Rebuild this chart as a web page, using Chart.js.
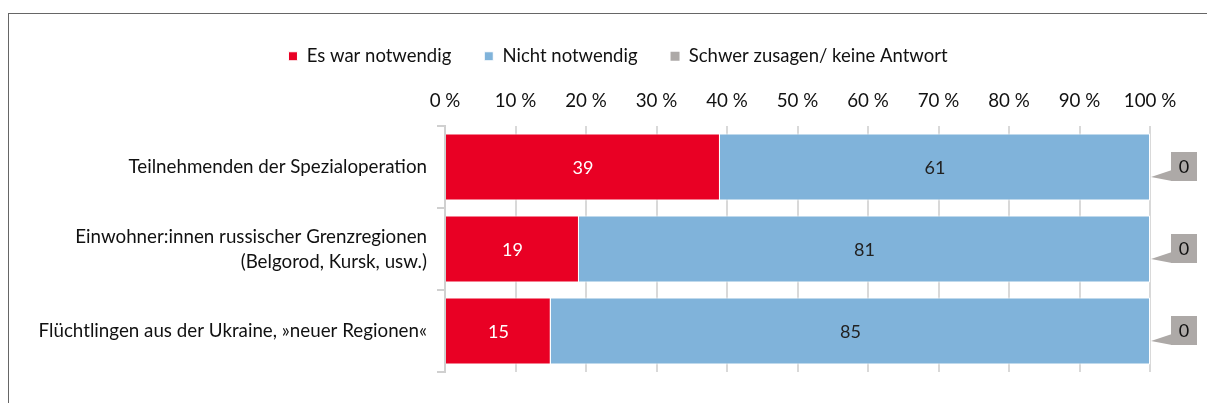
<!DOCTYPE html>
<html>
<head>
<meta charset="utf-8">
<script src="https://cdn.jsdelivr.net/npm/chart.js@4"></script>
<style>
  html, body { margin: 0; padding: 0; background: #fff; }
  #wrap { position: relative; width: 1207px; height: 403px; overflow: hidden; }
  #frame { position: absolute; left: 8px; top: 13px; width: 1300px; height: 500px;
           border-top: 1px solid #666; border-left: 1px solid #666; }
  canvas { position: absolute; left: 0; top: 0; }
</style>
</head>
<body>
<div id="wrap">
  <div id="frame"></div>
  <canvas id="chartCanvas" width="1207" height="403"></canvas>
</div>
<script>
// categories and values
const categories = [
  'Teilnehmenden der Spezialoperation',
  ['Einwohner:innen russischer Grenzregionen', '(Belgorod, Kursk, usw.)'],
  'Flüchtlingen aus der Ukraine, »neuer Regionen«'
];
const seriesNames = ['Es war notwendig', 'Nicht notwendig', 'Schwer zusagen/ keine Antwort'];
const necessary = [39, 19, 15];
const notNecessary = [61, 81, 85];
const noAnswer = [0, 0, 0];
const tickValues = [0, 10, 20, 30, 40, 50, 60, 70, 80, 90, 100];

const RED = '#E90024';
const BLUE = '#80B3DA';
const GREY = '#ADA9A7';
const FONT = 'Lato, "Open Sans", sans-serif';
const SIZE = 18.75;

// nudge the legend a bit to the right, like in the original
const legendShift = {
  id: 'legendShift',
  afterLayout(chart) {
    chart.legend.left += 43;
    chart.legend.right += 43;
  }
};

// numbers inside the bars
const barLabels = {
  id: 'barLabels',
  afterDatasetsDraw(chart) {
    const ctx = chart.ctx;
    ctx.save();
    ctx.font = '18px ' + FONT;
    ctx.textAlign = 'center';
    ctx.textBaseline = 'middle';
    [0, 1].forEach((di) => {
      const meta = chart.getDatasetMeta(di);
      meta.data.forEach((bar, i) => {
        const v = chart.data.datasets[di].data[i];
        if (!v) return;
        ctx.fillStyle = di === 0 ? '#fff' : '#222';
        ctx.fillText(v, (bar.x + bar.base) / 2, bar.y + 1);
      });
    });
    ctx.restore();
  }
};

// grey callouts for the third series
const callouts = {
  id: 'callouts',
  afterDatasetsDraw(chart) {
    const ctx = chart.ctx;
    const meta = chart.getDatasetMeta(2);
    ctx.save();
    meta.data.forEach((bar, i) => {
      const v = chart.data.datasets[2].data[i];
      const tipX = bar.x + 1, tipY = bar.y + 10;
      const bx = bar.x + 21, by = bar.y - 15, bw = 26, bh = 29;
      ctx.fillStyle = GREY;
      ctx.beginPath();
      ctx.moveTo(tipX, tipY);
      ctx.lineTo(bx + 1, by + bh - 11);
      ctx.lineTo(bx + 1, by + bh);
      ctx.closePath();
      ctx.fill();
      ctx.fillRect(bx, by, bw, bh);
      ctx.fillStyle = '#111';
      ctx.font = '18px ' + FONT;
      ctx.textAlign = 'center';
      ctx.textBaseline = 'middle';
      ctx.fillText(v, bx + bw / 2, by + bh / 2 + 1);
    });
    ctx.restore();
  }
};

const ctx = document.getElementById('chartCanvas').getContext('2d');
new Chart(ctx, {
  type: 'bar',
  data: {
    labels: categories,
    datasets: [
      { label: seriesNames[0], data: necessary, backgroundColor: RED, borderColor: '#fff', borderWidth: 1 },
      { label: seriesNames[1], data: notNecessary, backgroundColor: BLUE, borderColor: '#fff', borderWidth: 1 },
      { label: seriesNames[2], data: noAnswer, backgroundColor: GREY, borderWidth: 0 }
    ]
  },
  options: {
    indexAxis: 'y',
    responsive: false,
    animation: false,
    devicePixelRatio: 1,
    layout: { padding: { top: 14, right: 57, bottom: 31, left: 0 } },
    datasets: { bar: { categoryPercentage: 1, barPercentage: 0.82 } },
    plugins: {
      legend: {
        position: 'top',
        labels: {
          boxWidth: 9, boxHeight: 9, padding: 33,
          color: '#111', font: { family: FONT, size: 18.5 }
        }
      },
      tooltip: { enabled: false }
    },
    scales: {
      x: {
        position: 'top',
        stacked: true,
        min: 0, max: 100,
        afterBuildTicks: (scale) => { scale.ticks = tickValues.map((v) => ({ value: v })); },
        ticks: {
          callback: (v) => v + ' %',
          color: '#111', font: { family: FONT, size: SIZE }, padding: 14
        },
        grid: { color: '#D9D9D9', lineWidth: 2, drawTicks: false },
        border: { display: false }
      },
      y: {
        stacked: true,
        afterFit: (scale) => { scale.width = 445; },
        ticks: {
          color: '#111', font: { family: FONT, size: SIZE, lineHeight: 1.33 }, padding: 10
        },
        grid: { offset: true, drawOnChartArea: false, color: '#D0D0D0', lineWidth: 2, tickLength: 8 },
        border: { color: '#D0D0D0', width: 2 }
      }
    }
  },
  plugins: [legendShift, barLabels, callouts]
});
</script>
</body>
</html>
